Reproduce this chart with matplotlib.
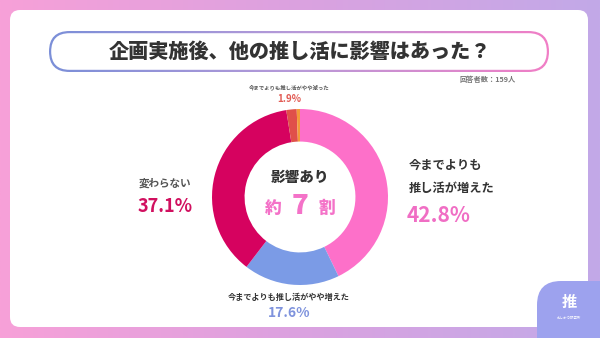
import numpy as np
import matplotlib
matplotlib.use('agg')
import matplotlib.pyplot as plt
from matplotlib.patches import FancyBboxPatch
from matplotlib.colors import LinearSegmentedColormap

plt.rcParams['font.family'] = ['Noto Sans CJK JP', 'DejaVu Sans']

# data
labels = ['今までよりも推し活が増えた', '今までよりも推し活がやや増えた', '変わらない',
          '今までよりも推し活がやや減った', '今までよりも推し活が減った']
values = [42.8, 17.6, 37.1, 1.9, 0.6]
colors = ['#fd70c9', '#7b9be6', '#d6025f', '#e0504a', '#f39a3a']
title = '企画実施後、他の推し活に影響はあった？'
n_resp = '回答者数：159人'

W, H = 600, 338
fig = plt.figure(figsize=(6, 3.38), dpi=100)

bg = fig.add_axes([0, 0, 1, 1])
bg.set_xlim(0, W)
bg.set_ylim(H, 0)
bg.axis('off')

# background gradient
grad = np.linspace(0, 1, 256).reshape(1, -1)
bgcmap = LinearSegmentedColormap.from_list('bg', ['#f7a0d8', '#dba2e0', '#c2a9e8'])
bg.imshow(grad, cmap=bgcmap, extent=[0, W, H, 0], aspect='auto', zorder=0)

# white card
card = FancyBboxPatch((10, 10), 578, 317, boxstyle='round,pad=0,rounding_size=10',
                      fc='white', ec='none', zorder=2)
bg.add_patch(card)

# logo blob bottom right, over the card
blob = FancyBboxPatch((537, 281), 120, 120, boxstyle='round,pad=0,rounding_size=24',
                      fc='#9da2ee', ec='none', zorder=3)
bg.add_patch(blob)
bg.text(569, 302, '推', color='white', fontsize=11, fontweight='bold',
        ha='center', va='center', zorder=4)
bg.text(569, 318, 'おしかつ研究所', color='white', fontsize=2.5,
        ha='center', va='center', zorder=4)

# title pill with gradient outline
outer = FancyBboxPatch((49, 31), 500, 41, boxstyle='round,pad=0,rounding_size=20.5',
                       fc='none', ec='none', zorder=3)
bg.add_patch(outer)
tcmap = LinearSegmentedColormap.from_list('tt', ['#7b8fd8', '#b89ad8', '#f17ec6'])
im = bg.imshow(grad, cmap=tcmap, extent=[49, 549, 72, 31], aspect='auto', zorder=3)
im.set_clip_path(outer)
inner = FancyBboxPatch((51.2, 33.2), 495.6, 36.6, boxstyle='round,pad=0,rounding_size=18.3',
                       fc='white', ec='none', zorder=4)
bg.add_patch(inner)
bg.text(300, 52, title, fontsize=14.5, fontweight='heavy', color='#333333',
        ha='center', va='center', zorder=5)
bg.text(516, 79, n_resp, fontsize=5.2, color='#777777', fontweight='bold',
        ha='right', va='center', zorder=5)

# donut
cx, cy, R = 300, 197, 88
pax = fig.add_axes([(cx - R) / W, (H - cy - R) / H, 2 * R / W, 2 * R / H])
pax.pie(values, colors=colors, startangle=90, counterclock=False, radius=1,
        wedgeprops=dict(width=0.37, edgecolor='none'))
pax.set_xlim(-1, 1)
pax.set_ylim(-1, 1)
pax.set_zorder(6)

# center text
bg.text(300, 177, '影響あり', fontsize=10.5, fontweight='heavy', color='#333333',
        ha='center', va='center', zorder=7)
bg.text(273, 208, '約', fontsize=12, fontweight='heavy', color='#f472c8',
        ha='center', va='center', zorder=7)
bg.text(300, 206, '7', fontsize=20, fontweight='heavy', color='#f472c8',
        ha='center', va='center', zorder=7)
bg.text(327, 208, '割', fontsize=12, fontweight='heavy', color='#f472c8',
        ha='center', va='center', zorder=7)

# labels
bg.text(409, 165, '今までよりも', fontsize=8.8, fontweight='bold', color='#333333',
        ha='left', va='center', zorder=7)
bg.text(409, 188, '推し活が増えた', fontsize=8.8, fontweight='bold', color='#333333',
        ha='left', va='center', zorder=7)
bg.text(407, 216, f'{values[0]}%', fontsize=15, fontweight='bold', color='#f06ec4',
        ha='left', va='center', zorder=7)

bg.text(191, 183, labels[2], fontsize=7.6, fontweight='bold', color='#555555',
        ha='right', va='center', zorder=7)
bg.text(193, 207, f'{values[2]}%', fontsize=13, fontweight='bold', color='#d1105f',
        ha='right', va='center', zorder=7)

bg.text(289, 297, labels[1], fontsize=5.9, fontweight='bold', color='#333333',
        ha='center', va='center', zorder=7)
bg.text(289, 313, f'{values[1]}%', fontsize=10, fontweight='bold', color='#7f93dd',
        ha='center', va='center', zorder=7)

bg.text(289, 87, labels[3], fontsize=3.9, fontweight='bold', color='#555555',
        ha='center', va='center', zorder=7)
bg.text(289, 99, f'{values[3]}%', fontsize=7, fontweight='bold', color='#e25c55',
        ha='center', va='center', zorder=7)

fig.savefig('out.png', dpi=100)
